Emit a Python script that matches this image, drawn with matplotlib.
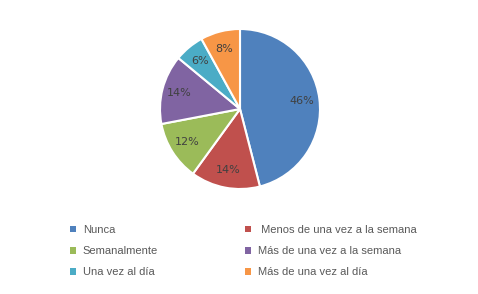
import matplotlib
matplotlib.use("Agg")
import matplotlib.pyplot as plt
from matplotlib.patches import Patch

labels = ["Nunca", " Menos de una vez a la semana", "Semanalmente",
          "Más de una vez a la semana", "Una vez al día", "Más de una vez al día"]
values = [46, 14, 12, 14, 6, 8]
colors = ["#4F81BD", "#C0504D", "#9BBB59", "#8064A2", "#4BACC6", "#F79646"]

fig = plt.figure(figsize=(4.78, 2.94), dpi=100)
W, H = 478, 294
cx, cy, r = 240, 109, 80
ax = fig.add_axes([(cx - r) / W, (H - cy - r) / H, 2 * r / W, 2 * r / H])
wedges, texts, autotexts = ax.pie(
    values, colors=colors, startangle=90, counterclock=False,
    autopct=lambda p: f"{p:.0f}%", pctdistance=0.78,
    wedgeprops=dict(edgecolor="white", linewidth=1.5),
    textprops=dict(fontsize=8, color="#404040"))
ax.set_aspect("equal")
ax.set_xlim(-1, 1)
ax.set_ylim(-1, 1)

handles = [Patch(facecolor=c, edgecolor="none") for c in colors]
common = dict(frameon=False, prop=dict(family="Liberation Sans", size=8),
              handlelength=0.55, handleheight=0.55,
              handletextpad=0.6, labelspacing=1.0, borderpad=0, borderaxespad=0,
              labelcolor="#595959")
leg1 = fig.legend([handles[i] for i in (0, 2, 4)], [labels[i] for i in (0, 2, 4)],
                  loc="upper left", bbox_to_anchor=(70 / W, 1 - 225 / H), **common)
leg2 = fig.legend([handles[i] for i in (1, 3, 5)], [labels[i] for i in (1, 3, 5)],
                  loc="upper left", bbox_to_anchor=(245 / W, 1 - 225 / H), **common)

fig.savefig("out.png", dpi=100)
